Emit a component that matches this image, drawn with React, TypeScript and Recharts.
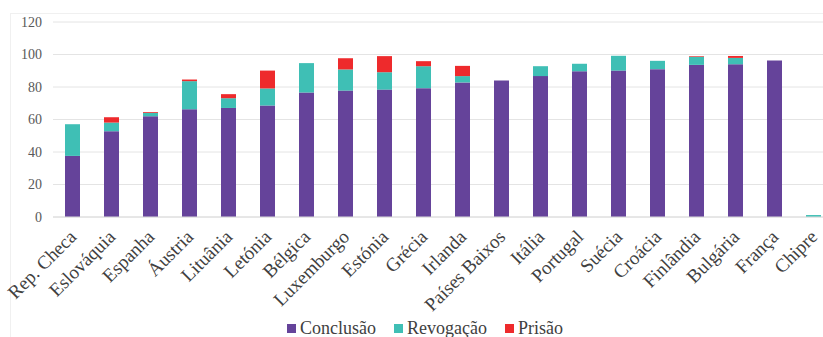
import { BarChart, Bar, XAxis, YAxis, CartesianGrid, Legend } from "recharts";

const categories = [
  "Rep. Checa", "Eslováquia", "Espanha", "Áustria", "Lituânia", "Letónia", "Bélgica",
  "Luxemburgo", "Estónia", "Grécia", "Irlanda", "Países Baixos", "Itália", "Portugal",
  "Suécia", "Croácia", "Finlândia", "Bulgária", "França", "Chipre",
];
const conclusao = [37.6, 52.8, 62.0, 66.3, 67.1, 68.6, 76.6, 77.8, 78.4, 79.3, 82.8, 84.0, 86.7, 89.7, 90.1, 91.0, 93.6, 94.0, 96.3, 0];
const revogacao = [19.5, 5.3, 2.1, 17.3, 6.0, 10.5, 18.1, 13.0, 10.7, 13.5, 3.9, 0, 6.1, 4.6, 9.1, 5.1, 5.0, 3.9, 0, 1.2];
const prisao = [0, 3.3, 0.5, 1.0, 2.5, 11.0, 0, 6.9, 9.9, 3.1, 6.3, 0, 0, 0, 0, 0, 0.4, 1.2, 0, 0];
const yTicks = [0, 20, 40, 60, 80, 100, 120];

const series = [
  { key: "conclusao", label: "Conclusão", color: "#65439a" },
  { key: "revogacao", label: "Revogação", color: "#3fbfb5" },
  { key: "prisao", label: "Prisão", color: "#ee2a2c" },
];

const data = categories.map((name, i) => ({
  name,
  conclusao: conclusao[i],
  revogacao: revogacao[i],
  prisao: prisao[i],
}));

const FONT = "'Liberation Serif', 'Times New Roman', serif";

function XTick({ x, y, payload }: any) {
  const ax = x + 5;
  const ay = y + 13;
  return (
    <text
      x={ax}
      y={ay}
      transform={`rotate(-45, ${ax}, ${ay})`}
      textAnchor="end"
      fontFamily={FONT}
      fontSize={19}
      fill="#404040"
    >
      {payload.value}
    </text>
  );
}

function LegendBox() {
  return (
    <div
      style={{
        display: "flex",
        justifyContent: "center",
        gap: 18,
        paddingLeft: 17,
        fontFamily: FONT,
        fontSize: 18,
        color: "#404040",
        lineHeight: "18px",
      }}
    >
      {series.map((s) => (
        <span key={s.key} style={{ display: "flex", alignItems: "center" }}>
          <span style={{ width: 9, height: 9, background: s.color, marginRight: 4, display: "inline-block" }} />
          {s.label}
        </span>
      ))}
    </div>
  );
}

export default function App() {
  return (
    <div style={{ position: "fixed", left: 0, top: 0, width: 823, height: 337, overflow: "hidden", background: "#fff" }}>
      <div
        style={{
          position: "absolute",
          left: 10,
          top: 13,
          width: 900,
          height: 400,
          border: "1px solid #f0f0f0",
        }}
      />
      <div style={{ position: "absolute", left: 0, top: 0 }}>
        <BarChart width={840} height={337} data={data} margin={{ top: 22, right: 7, left: 0, bottom: 0 }}>
          <CartesianGrid vertical={false} stroke="#e4e4e4" />
          <XAxis
            dataKey="name"
            interval={0}
            tickLine={false}
            axisLine={{ stroke: "#dcdcdc" }}
            height={102}
            tick={<XTick />}
          />
          <YAxis
            domain={[0, 120]}
            ticks={yTicks}
            width={53}
            axisLine={false}
            tickLine={false}
            tickMargin={5}
            tick={{ fontFamily: FONT, fontSize: 14, fill: "#595959" }}
          />
          <Legend verticalAlign="bottom" height={18} content={<LegendBox />} />
          {series.map((s) => (
            <Bar key={s.key} dataKey={s.key} name={s.label} stackId="a" fill={s.color} barSize={15} isAnimationActive={false} />
          ))}
        </BarChart>
      </div>
    </div>
  );
}
